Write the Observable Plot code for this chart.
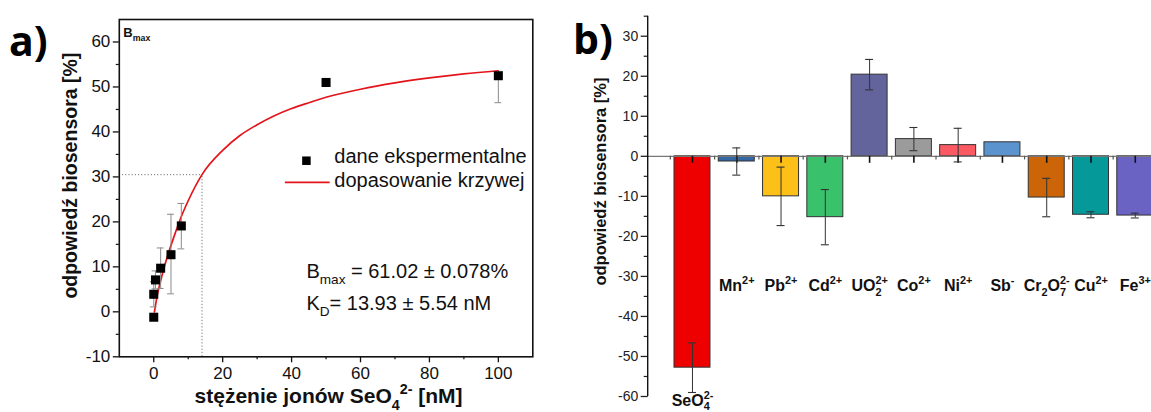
<!DOCTYPE html>
<html><head><meta charset="utf-8">
<script src="https://cdn.jsdelivr.net/npm/d3@7"></script>
<script src="https://cdn.jsdelivr.net/npm/@observablehq/plot@0.6"></script>
<style>
html,body{margin:0;padding:0;background:#fff;}
body{width:1151px;height:412px;overflow:hidden;position:relative;font-family:"Liberation Sans",Arial,sans-serif;}
#a,#b{position:absolute;top:0;}
#a{left:0;width:560px;} #b{left:560px;width:630px;}
svg{max-width:none !important;}
.tag{position:absolute;font-family:"Open Sans","Liberation Sans",sans-serif;font-weight:700;font-size:41px;line-height:1;color:#000;}
</style></head><body>
<div id="a"></div><div id="b"></div>
<div class="tag" style="left:9px;top:20px">a)</div>
<div class="tag" style="left:573px;top:18px">b)</div>
<script>
// ---------- Panel a data ----------
const concX   = [0, 0, 0.5, 2, 5, 8, 50, 100];
const respY   = [-1.2, 3.9, 7.1, 9.7, 12.7, 19.1, 51.0, 52.5];
const errLow  = [0, 2.8, 2.0, 4.5, 8.7, 5.1, 0, 6.0];
const errHigh = [0, 2.8, 2.0, 4.5, 9.0, 5.0, 0, 0];
const fitX = [0.2, 1, 2, 3, 4, 6, 8, 10, 14, 20, 25, 30, 35, 40, 45, 50, 60, 70, 80, 90, 100];
const fitY = [0.0, 3.6, 6.9, 9.8, 12.4, 17.0, 21.2, 24.7, 30.5, 35.9, 39.2, 41.6, 43.6, 45.2, 46.5, 47.7, 49.5, 50.9, 52.0, 52.9, 53.6];
const halfX = 14, halfY = 30.5;
const xTicksA = [0, 20, 40, 60, 80, 100];
const xMinorA = [10, 30, 50, 70, 90];
const yTicksA = [-10, 0, 10, 20, 30, 40, 50, 60];
const yMinorA = [-5, 5, 15, 25, 35, 45, 55];
const xTitleA = "stężenie jonów SeO_{4}^{2-} [nM]";
const yTitle  = "odpowiedź biosensora [%]";
const legendA = ["dane ekspermentalne", "dopasowanie krzywej"];
const statsA  = ["B_{max} = 61.02 ± 0.078%", "K_{D}= 13.93 ± 5.54 nM"];

// ---------- Panel b data ----------
const ions     = ["SeO_{4}^{2-}", "Mn^{2+}", "Pb^{2+}", "Cd^{2+}", "UO_{2}^{2+}", "Co^{2+}", "Ni^{2+}", "Sb^{-}", "Cr_{2}O_{7}^{2-}", "Cu^{2+}", "Fe^{3+}"];
const ionResp  = [-52.8, -1.3, -10.0, -15.2, 20.4, 4.3, 2.8, 3.5, -10.3, -14.6, -14.8];
const ionErr   = [6.2, 3.4, 7.3, 6.9, 3.8, 2.9, 4.2, 0, 4.8, 0.75, 0.6];
const ionColor = ["#ee0000", "#3468a4", "#fcc019", "#3ac16c", "#62649b", "#9b9b9b", "#fb5a62", "#5b93cf", "#cc6507", "#05999a", "#6a63c4"];
const yTicksB = [-60, -50, -40, -30, -20, -10, 0, 10, 20, 30];
const yMinorB = [-55, -45, -35, -25, -15, -5, 5, 15, 25, 35];

const FONT = "'Liberation Sans', Arial, sans-serif";

// ---------- Panel a ----------
const pts = concX.map((x, i) => ({x, y: respY[i], lo: respY[i] - errLow[i], hi: respY[i] + errHigh[i]}));
const fit = fitX.map((x, i) => ({x, y: fitY[i]}));

const plotA = Plot.plot({
  width: 560, height: 412,
  marginLeft: 118.8, marginRight: 27.7, marginTop: 19, marginBottom: 55.7,
  style: {fontFamily: FONT, color: "#111", background: "transparent", overflow: "visible"},
  x: {domain: [-10, 110]},
  y: {domain: [-10, 65]},
  marks: [
    Plot.ruleY([halfY], {x1: -10, x2: halfX, stroke: "#777", strokeDasharray: "1.2,2"}),
    Plot.ruleX([halfX], {y1: -10, y2: halfY, stroke: "#777", strokeDasharray: "1.2,2"}),
    Plot.line(fit, {x: "x", y: "y", stroke: "#e3151b", strokeWidth: 1.7, curve: "monotone-x"}),
    Plot.ruleX(pts, {x: "x", y1: "lo", y2: "hi", stroke: "#8a8a8a", strokeWidth: 1}),
    Plot.ruleY(pts.filter(d => d.lo < d.y), {y: "lo", x1: d => d.x - 1, x2: d => d.x + 1, stroke: "#8a8a8a"}),
    Plot.ruleY(pts.filter(d => d.hi > d.y), {y: "hi", x1: d => d.x - 1, x2: d => d.x + 1, stroke: "#8a8a8a"}),
    Plot.dot(pts, {x: "x", y: "y", symbol: "square", r: 5.1, fill: "#000", stroke: "none"}),
    Plot.axisX({ticks: xTicksA, tickSize: 6, tickPadding: 4, fontSize: 17, tickFormat: d => String(d), label: null, strokeWidth: 1.3}),
    Plot.axisX({ticks: xMinorA, tickSize: 3, tickFormat: () => "", label: null, strokeWidth: 1.2}),
    Plot.axisY({ticks: yTicksA, tickSize: 6, tickPadding: 3, fontSize: 17, tickFormat: d => String(d), label: null, strokeWidth: 1.3}),
    Plot.axisY({ticks: yMinorA, tickSize: 3, tickFormat: () => "", label: null, strokeWidth: 1.2}),
    Plot.frame({stroke: "#111", strokeWidth: 1.6}),
    // titles
    Plot.text([xTitleA], {text: d => d, frameAnchor: "bottom", textAnchor: "middle", dx: 2.5, dy: 46.5, fontSize: 21, fontWeight: "bold", fill: "#111"}),
    Plot.text([yTitle], {text: d => d, frameAnchor: "left", textAnchor: "middle", rotate: -90, dx: -49, dy: -12.5, fontSize: 19.5, fontWeight: "bold", fill: "#111"}),
    // top-left label
    Plot.text(["B_{max}"], {text: d => d, frameAnchor: "top-left", dx: 4, dy: 8, textAnchor: "start", fontSize: 13, fontWeight: "bold", fill: "#111"}),
    // legend
    Plot.dot([legendA[0]], {x: () => 44.3, y: () => 33.6, symbol: "square", r: 4.8, fill: "#000"}),
    Plot.ruleY([legendA[1]], {y: () => 28.8, x1: () => 38.2, x2: () => 51.2, stroke: "#e3151b", strokeWidth: 1.7}),
    Plot.text(legendA, {x: () => 52.4, y: (d, i) => i === 0 ? 34.6 : 29.2, text: d => d, textAnchor: "start", fontSize: 20, fill: "#111"}),
    // stats
    Plot.text(statsA, {x: () => 44.3, y: (d, i) => i === 0 ? 9.0 : 1.9, text: d => d, textAnchor: "start", fontSize: 20, fill: "#111"})
  ]
});
document.getElementById("a").appendChild(plotA);

// ---------- Panel b ----------
const dataB = ions.map((ion, i) => ({ion, v: ionResp[i], e: ionErr[i], c: ionColor[i]}));
const stepB = 44.28;
const plotB = Plot.plot({
  width: 630, height: 412,
  marginLeft: 87.7, marginRight: 630 - 87.7 - 12 * stepB, marginTop: 15.7, marginBottom: 16,
  style: {fontFamily: FONT, color: "#222", background: "transparent", overflow: "visible"},
  x: {domain: ions, paddingInner: 0.187, paddingOuter: 0.5935, round: false, axis: null},
  y: {domain: [-60, 35]},
  color: {type: "identity"},
  marks: [
    Plot.barY(dataB, {x: "ion", y: "v", fill: "c", stroke: "#333", strokeWidth: 1}),
    Plot.ruleY([0], {stroke: "#777", strokeWidth: 1.3}),
    Plot.ruleX(dataB, {x: "ion", y1: 0, y2: -1.75, stroke: "#111", strokeWidth: 1.6}),
    Plot.ruleX(dataB, {x: "ion", y1: 0, y2: -0.9, dx: -stepB / 2, stroke: "#555", strokeWidth: 1.2}),
    Plot.ruleX(dataB.filter(d => d.e > 0), {x: "ion", y1: d => d.v - d.e, y2: d => d.v + d.e, stroke: "#333", strokeWidth: 1}),
    Plot.tickY(dataB.filter(d => d.e > 0), {x: "ion", y: d => d.v - d.e, insetLeft: 14, insetRight: 14, stroke: "#333", strokeWidth: 1.1}),
    Plot.tickY(dataB.filter(d => d.e > 0), {x: "ion", y: d => d.v + d.e, insetLeft: 14, insetRight: 14, stroke: "#333", strokeWidth: 1.1}),
    Plot.axisY({ticks: yTicksB, tickSize: 7, tickPadding: 3, fontSize: 14, tickFormat: d => String(d), label: null, strokeWidth: 1.3}),
    Plot.axisY({ticks: yMinorB, tickSize: 4, tickFormat: () => "", label: null, strokeWidth: 1.2}),
    Plot.text([yTitle], {text: d => d, frameAnchor: "left", textAnchor: "middle", rotate: -90, dx: -47.7, dy: -24.8, fontSize: 16.5, fontWeight: "bold", fill: "#111"}),
    Plot.text(dataB, {x: "ion", y: (d, i) => i === 0 ? -61.0 : -32.3, text: "ion", fontSize: 16, fontWeight: "bold", fill: "#111"})
  ]
});
document.getElementById("b").appendChild(plotB);

// left axis line for panel b
d3.select(plotB).append("line").attr("x1", 87.7).attr("x2", 87.7).attr("y1", 15.7).attr("y2", 396)
  .attr("stroke", "#111").attr("stroke-width", 1.4);

// ---------- rich text (sub/superscripts) ----------
function rich(el, stack) {
  const s = el.textContent;
  if (!/[_^]\{/.test(s)) return;
  const fs = parseFloat(getComputedStyle(el).fontSize) || 14;
  const parts = s.split(/(_\{[^}]*\}|\^\{[^}]*\})/).filter(p => p !== "");
  el.textContent = "";
  let shift = 0, lastSub = null;
  for (const part of parts) {
    let type = "n", t = part;
    if (part.startsWith("_{")) { type = "sub"; t = part.slice(2, -1); }
    else if (part.startsWith("^{")) { type = "sup"; t = part.slice(2, -1); }
    const target = type === "sub" ? fs * 0.3 : type === "sup" ? -fs * 0.42 : 0;
    const ts = document.createElementNS("http://www.w3.org/2000/svg", "tspan");
    if (target - shift !== 0) ts.setAttribute("dy", target - shift);
    shift = target;
    if (type !== "n") ts.setAttribute("font-size", (fs * 0.68).toFixed(1));
    ts.textContent = t;
    el.appendChild(ts);
    if (type === "sup" && stack && lastSub) {
      ts.setAttribute("dx", -lastSub.getComputedTextLength());
    }
    lastSub = type === "sub" ? ts : null;
  }
}
plotA.querySelectorAll("text").forEach(el => rich(el, false));
plotB.querySelectorAll("text").forEach(el => rich(el, true));
</script>
</body></html>
